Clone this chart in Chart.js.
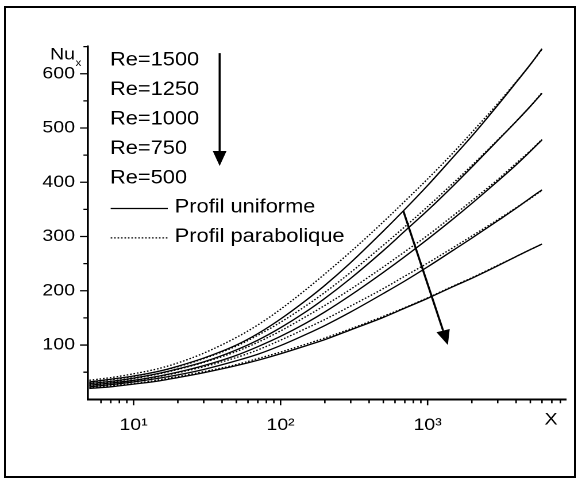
<!DOCTYPE html>
<html>
<head>
<meta charset="utf-8">
<script src="https://cdn.jsdelivr.net/npm/chart.js@4.4.1/dist/chart.umd.min.js"></script>
<style>
  html, body { margin: 0; padding: 0; background: #fff; }
  #wrap { position: absolute; left: 0; top: 0; width: 503px; height: 478px; transform: scaleX(1.1491); transform-origin: 0 0; }
  #frame { position: absolute; left: 4px; top: 6px; width: 568px; height: 468px; border: 2px solid #000; pointer-events: none; }
</style>
</head>
<body>
<div id="wrap"><canvas id="nuChart"></canvas></div>
<div id="frame"></div>
<script>
const xValues = [5, 7, 10, 15, 20, 30, 50, 70, 100, 150, 200, 300, 500, 700, 1000, 1500, 2000, 3000, 4000, 5000, 6000];
const reynolds = [1500, 1250, 1000, 750, 500];

// Nu_x, uniform inlet profile (solid lines)
const uniform1500 = [32, 37, 43, 52, 61, 76, 100, 121, 148, 183, 210, 252, 310, 350, 394, 447, 485, 542, 584, 617, 646];
const uniform1250 = [29, 33, 39, 48, 56, 69, 91, 109, 132, 162, 186, 223, 274, 310, 348, 394, 428, 477, 512, 540, 564];
const uniform1000 = [26, 30, 35, 43, 50, 62, 81, 97, 116, 141, 161, 192, 234, 263, 295, 333, 361, 402, 432, 457, 478];
const uniform750  = [23, 27, 32, 39, 45, 55, 71, 83, 99, 120, 136, 161, 195, 218, 244, 275, 297, 329, 352, 371, 386];
const uniform500  = [20, 23, 28, 34, 40, 49, 62, 72, 84, 99, 110, 128, 151, 168, 186, 208, 223, 246, 263, 276, 286];

// Nu_x, parabolic inlet profile (dotted lines)
const parabolic1500 = [35, 40, 47, 57, 67, 85, 114, 137, 166, 203, 231, 272, 327, 365, 406, 455, 492, 545, 585, 617, 645];
const parabolic1250 = [31, 36, 42, 52, 60, 75, 98, 118, 142, 173, 197, 234, 284, 318, 355, 399, 431, 478, 512, 540, 565];
const parabolic1000 = [28, 32, 38, 47, 55, 68, 88, 105, 126, 153, 173, 203, 244, 272, 302, 339, 366, 405, 435, 458, 479];
const parabolic750  = [25, 29, 34, 42, 49, 60, 77, 91, 109, 131, 147, 172, 204, 227, 251, 280, 301, 331, 353, 370, 385];
const parabolic500  = [21, 25, 29, 36, 42, 51, 64, 75, 87, 102, 113, 130, 153, 169, 187, 209, 224, 247, 263, 276, 286];

// Axis ticks
const xMajorTicks = [10, 100, 1000];
const xTickLabels = ['10\u00B9', '10\u00B2', '10\u00B3'];
const xMinorTicks = [6, 7, 8, 9, 20, 30, 40, 50, 60, 70, 80, 90, 200, 300, 400, 500, 600, 700, 800, 900, 2000, 3000, 4000, 5000, 6000, 7000, 8000];
const yMajorTicks = [100, 200, 300, 400, 500, 600];
const yMinorTicks = [50, 150, 250, 350, 450, 550, 650];

const uniformSeries = [uniform1500, uniform1250, uniform1000, uniform750, uniform500];
const parabolicSeries = [parabolic1500, parabolic1250, parabolic1000, parabolic750, parabolic500];

const FONT = '"Liberation Sans", Arial, Helvetica, sans-serif';
const LINE_W = 1.3;
const DOT_DASH = [1.4, 1.6];

// arrows in data coordinates: [x, Nu]
const arrowRe = [[38.5, 638], [38.5, 430]];
const arrowCurves = [[684, 347], [1374, 100]];

function toPoints(values) {
    return xValues.map((x, i) => ({ x: x, y: values[i] }));
}

const datasets = [];
reynolds.forEach((re, i) => {
    datasets.push({
        label: 'Re=' + re + ' uniforme',
        data: toPoints(uniformSeries[i]),
        borderColor: '#000',
        borderWidth: LINE_W,
        pointRadius: 0,
        fill: false,
        cubicInterpolationMode: 'monotone'
    });
    datasets.push({
        label: 'Re=' + re + ' parabolique',
        data: toPoints(parabolicSeries[i]),
        borderColor: '#000',
        borderWidth: LINE_W,
        borderDash: DOT_DASH,
        pointRadius: 0,
        fill: false,
        cubicInterpolationMode: 'monotone'
    });
});

function drawArrow(ctx, x1, y1, x2, y2, headLen, headHalf) {
    const ang = Math.atan2(y2 - y1, x2 - x1);
    const bx = x2 - headLen * Math.cos(ang);
    const by = y2 - headLen * Math.sin(ang);
    ctx.beginPath();
    ctx.moveTo(x1, y1);
    ctx.lineTo(bx, by);
    ctx.stroke();
    ctx.beginPath();
    ctx.moveTo(x2, y2);
    ctx.lineTo(bx + headHalf * Math.sin(ang), by - headHalf * Math.cos(ang));
    ctx.lineTo(bx - headHalf * Math.sin(ang), by + headHalf * Math.cos(ang));
    ctx.closePath();
    ctx.fill();
}

// Tick marks, legend, axis titles and arrows
const decorations = {
    id: 'decorations',
    afterDraw(chart) {
        const ctx = chart.ctx;
        const xs = chart.scales.x;
        const ys = chart.scales.y;
        const area = chart.chartArea;
        ctx.save();
        ctx.strokeStyle = '#000';
        ctx.fillStyle = '#000';

        // tick marks
        ctx.lineWidth = 1.3;
        ctx.beginPath();
        xMajorTicks.forEach(v => {
            const px = xs.getPixelForValue(v);
            ctx.moveTo(px, area.bottom);
            ctx.lineTo(px, area.bottom + 6);
        });
        xMinorTicks.forEach(v => {
            const px = xs.getPixelForValue(v);
            ctx.moveTo(px, area.bottom);
            ctx.lineTo(px, area.bottom + 4);
        });
        yMajorTicks.forEach(v => {
            const py = ys.getPixelForValue(v);
            ctx.moveTo(area.left, py);
            ctx.lineTo(area.left - 7, py);
        });
        yMinorTicks.forEach(v => {
            const py = ys.getPixelForValue(v);
            ctx.moveTo(area.left, py);
            ctx.lineTo(area.left - 4, py);
        });
        ctx.stroke();

        // axis titles
        ctx.textBaseline = 'alphabetic';
        ctx.textAlign = 'left';
        ctx.font = '17px ' + FONT;
        ctx.fillText('Nu', 43.5, 59.5);
        const nuW = ctx.measureText('Nu').width;
        ctx.font = '10px ' + FONT;
        ctx.fillText('x', 43.5 + nuW + 0.5, 66);
        ctx.font = '17px ' + FONT;
        ctx.textBaseline = 'middle';
        ctx.textAlign = 'center';
        ctx.fillText('X', 479.5, 420);

        // legend
        ctx.textAlign = 'left';
        ctx.font = '19px ' + FONT;
        reynolds.forEach((re, i) => {
            ctx.fillText('Re=' + re, 95.7, 60.5 + i * 29.4);
        });
        const yU = 60.5 + 5 * 29.4;
        const yP = yU + 29.4;
        ctx.fillText('Profil uniforme', 152, yU);
        ctx.fillText('Profil parabolique', 152, yP);
        ctx.lineWidth = LINE_W;
        ctx.beginPath();
        ctx.moveTo(96.3, yU + 1);
        ctx.lineTo(146, yU + 1);
        ctx.stroke();
        ctx.setLineDash(DOT_DASH);
        ctx.beginPath();
        ctx.moveTo(96.3, yP + 1);
        ctx.lineTo(146, yP + 1);
        ctx.stroke();
        ctx.setLineDash([]);

        // arrows
        ctx.lineWidth = 1.8;
        drawArrow(ctx,
            xs.getPixelForValue(arrowRe[0][0]), ys.getPixelForValue(arrowRe[0][1]),
            xs.getPixelForValue(arrowRe[1][0]), ys.getPixelForValue(arrowRe[1][1]), 15, 6);
        drawArrow(ctx,
            xs.getPixelForValue(arrowCurves[0][0]), ys.getPixelForValue(arrowCurves[0][1]),
            xs.getPixelForValue(arrowCurves[1][0]), ys.getPixelForValue(arrowCurves[1][1]), 15, 6);
        ctx.restore();
    }
};

const chartCtx = document.getElementById('nuChart').getContext('2d');
const nuChart = new Chart(chartCtx, {
    type: 'line',
    data: { datasets: datasets },
    options: {
        responsive: true,
        maintainAspectRatio: false,
        animation: false,
        devicePixelRatio: 2,
        layout: { padding: { top: 46.6, right: 10.7, left: 0, bottom: 0 } },
        plugins: {
            legend: { display: false },
            tooltip: { enabled: false }
        },
        scales: {
            x: {
                type: 'logarithmic',
                min: 4.9,
                max: 8700,
                afterBuildTicks: scale => { scale.ticks = xMajorTicks.map(v => ({ value: v })); },
                afterFit: scale => { scale.height = 78.7; },
                grid: { display: false, drawTicks: false },
                border: { display: true, color: '#000', width: 2 },
                ticks: {
                    autoSkip: false,
                    maxRotation: 0,
                    padding: 16,
                    color: '#000',
                    font: { family: FONT, size: 17 },
                    callback: (value, index) => xTickLabels[index]
                }
            },
            y: {
                min: 0,
                max: 650,
                afterBuildTicks: scale => { scale.ticks = yMajorTicks.map(v => ({ value: v })); },
                afterFit: scale => { scale.width = 76.6; },
                grid: { display: false, drawTicks: false },
                border: { display: true, color: '#000', width: 1.8 },
                ticks: {
                    padding: 11.3,
                    color: '#000',
                    font: { family: FONT, size: 17 },
                    callback: value => String(value)
                }
            }
        }
    },
    plugins: [decorations]
});
</script>
</body>
</html>
